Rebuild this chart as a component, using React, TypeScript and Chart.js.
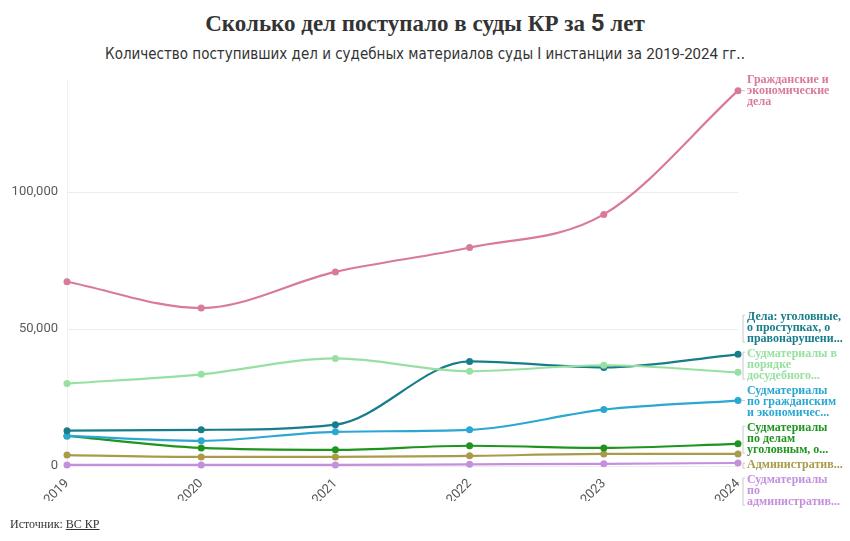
import React, { useEffect, useRef } from 'react';
import { Chart, registerables } from 'chart.js';

Chart.register(...registerables);

// ---- data ----
const years = ['2019', '2020', '2021', '2022', '2023', '2024'];
const civilCases = [67300, 57700, 70900, 79800, 91900, 137100];
const criminalCases = [12900, 13200, 15100, 38200, 36000, 40800];
const pretrialMaterials = [30100, 33500, 39300, 34600, 36800, 34200];
const civilMaterials = [11000, 9200, 12500, 13200, 20600, 23900];
const criminalMaterials = [11000, 6600, 5900, 7400, 6600, 8100];
const adminCases = [4000, 3300, 3300, 3700, 4400, 4400];
const adminMaterials = [400, 400, 400, 600, 800, 1100];
const yTickValues = [0, 50000, 100000];

const seriesNames = [
  'Гражданские и экономические дела',
  'Судматериалы в порядке досудебного производства',
  'Дела: уголовные, о проступках, о правонарушениях',
  'Судматериалы по гражданским и экономическим делам',
  'Судматериалы по делам уголовным, о проступках',
  'Административные дела',
  'Судматериалы по административным делам',
];
const seriesLabelLines = [
  ['Гражданские и', 'экономические', 'дела'],
  ['Судматериалы в', 'порядке', 'досудебного...'],
  ['Дела: уголовные,', 'о проступках, о', 'правонарушени...'],
  ['Судматериалы', 'по гражданским', 'и экономичес...'],
  ['Судматериалы', 'по делам', 'уголовным, о...'],
  ['Административ...'],
  ['Судматериалы', 'по', 'административ...'],
];
const seriesValues = [
  civilCases,
  pretrialMaterials,
  criminalCases,
  civilMaterials,
  criminalMaterials,
  adminCases,
  adminMaterials,
];
const seriesColors = ['#d9799b', '#98e0a1', '#187d8b', '#2aa7d3', '#1f951f', '#a99b4a', '#c490de'];

const LABEL_FONT = 'bold 12px "Liberation Serif", "DejaVu Serif", serif';
const LINE_H = 11;
const GAP = 4;

const endLabels = {
  id: 'endLabels',
  afterDatasetsDraw(chart: any) {
    const ctx = chart.ctx;
    const items: any[] = [];
    chart.data.datasets.forEach((ds: any, i: number) => {
      const meta = chart.getDatasetMeta(i);
      const pt = meta.data[meta.data.length - 1];
      if (!pt) return;
      const lines = seriesLabelLines[i];
      items.push({ i, x: pt.x, target: pt.y, h: lines.length * LINE_H, lines, color: ds.borderColor });
    });
    items.sort((a, b) => a.target - b.target);
    // cluster relaxation preserving mean position
    let clusters: any[] = [];
    const place = (c: any) => {
      let off = 0;
      let sum = 0;
      c.items.forEach((m: any) => {
        sum += m.target - (off + m.h / 2);
        off += m.h + GAP;
      });
      c.top = sum / c.items.length;
      c.height = off - GAP;
    };
    for (const it of items) {
      clusters.push({ items: [it], top: 0, height: 0 });
      place(clusters[clusters.length - 1]);
      while (clusters.length > 1) {
        const a = clusters[clusters.length - 2];
        const b = clusters[clusters.length - 1];
        if (a.top + a.height + GAP > b.top) {
          const merged = { items: a.items.concat(b.items), top: 0, height: 0 };
          place(merged);
          clusters.splice(clusters.length - 2, 2, merged);
        } else break;
      }
    }
    ctx.save();
    ctx.font = LABEL_FONT;
    ctx.textBaseline = 'middle';
    ctx.textAlign = 'left';
    clusters.forEach((c) => {
      let y = c.top;
      c.items.forEach((m: any) => {
        const lx = m.x + 9;
        const top = y;
        const bottom = y + m.h;
        const center = (top + bottom) / 2;
        ctx.strokeStyle = '#c8c8c8';
        ctx.lineWidth = 1;
        ctx.beginPath();
        if (Math.abs(center - m.target) < 3) {
          ctx.moveTo(m.x + 4, m.target);
          ctx.lineTo(lx - 2, m.target);
        } else {
          const bx = lx - 4;
          ctx.moveTo(bx + 2, top + 4);
          ctx.lineTo(bx, top + 4);
          ctx.lineTo(bx, bottom - 2);
          ctx.lineTo(bx + 2, bottom - 2);
        }
        ctx.stroke();
        ctx.fillStyle = m.color;
        m.lines.forEach((ln: string, k: number) => {
          ctx.fillText(ln, lx, top + LINE_H * k + LINE_H / 2 + 0.5);
        });
        y = bottom + GAP;
      });
    });
    ctx.restore();
  },
};

export default function App() {
  const ref = useRef<HTMLCanvasElement | null>(null);
  useEffect(() => {
    if (!ref.current) return;
    const chart = new Chart(ref.current, {
      type: 'line',
      data: {
        labels: years,
        datasets: seriesValues.map((vals, i) => ({
          label: seriesNames[i],
          data: vals,
          borderColor: seriesColors[i],
          backgroundColor: seriesColors[i],
          pointBackgroundColor: seriesColors[i],
          pointBorderWidth: 0,
          pointRadius: 3.5,
          borderWidth: 2.2,
          cubicInterpolationMode: 'monotone' as const,
          fill: false,
          clip: false as any,
        })),
      },
      options: {
        animation: false,
        responsive: false,
        devicePixelRatio: 1,
        layout: { padding: { left: 0, right: 112, top: 80, bottom: 40 } },
        plugins: {
          legend: { display: false },
          tooltip: { enabled: false },
          title: { display: false },
        },
        scales: {
          x: {
            offset: false,
            grid: { display: false },
            border: { display: false },
            ticks: {
              minRotation: 45,
              maxRotation: 45,
              padding: 2,
              color: '#555',
              font: { family: 'Roboto, "DejaVu Sans", sans-serif', size: 13 },
            },
            afterFit: (s: any) => {
              s.height = 35;
            },
          },
          y: {
            min: 0,
            max: 141000,
            afterBuildTicks: (s: any) => {
              s.ticks = yTickValues.map((v) => ({ value: v }));
            },
            grid: { color: '#ececec', lineWidth: 1, drawTicks: false },
            border: { display: true, color: '#f0f0f0' },
            ticks: {
              padding: 9,
              color: '#5a5a5a',
              font: { family: 'Roboto, "DejaVu Sans", sans-serif', size: 13 },
              callback: (v: any) => Number(v).toLocaleString('en-US'),
            },
            afterFit: (s: any) => {
              s.width = 67;
            },
          },
        },
      },
      plugins: [endLabels],
    });
    return () => chart.destroy();
  }, []);

  return (
    <div style={{ position: 'fixed', left: 0, top: 0, width: 850, height: 541, background: '#fff' }}>
      <div
        style={{
          position: 'absolute',
          top: 8,
          left: 0,
          width: 850,
          textAlign: 'center',
          fontFamily: '"Liberation Serif", "DejaVu Serif", serif',
          fontWeight: 'bold',
          fontSize: 23,
          color: '#333',
          lineHeight: '30px',
        }}
      >
        Сколько дел поступало в суды КР за <span style={{ fontFamily: 'Roboto, sans-serif', fontSize: 24 }}>5</span> лет
      </div>
      <div
        style={{
          position: 'absolute',
          top: 43,
          left: 0,
          width: 850,
          textAlign: 'center',
          fontFamily: '"Liberation Sans Narrow", "DejaVu Sans Condensed", "Roboto Condensed", sans-serif',
          fontSize: 15,
          color: '#333',
          lineHeight: '22px',
        }}
      >
        Количество поступивших дел и судебных материалов суды I инстанции за{' '}
        <span style={{ fontFamily: 'Roboto, sans-serif' }}>2019-2024</span> гг..
      </div>
      <canvas ref={ref} width={850} height={541} style={{ position: 'absolute', left: 0, top: 0 }} />
      <div
        style={{
          position: 'absolute',
          top: 516,
          left: 10,
          fontFamily: '"Liberation Serif", "DejaVu Serif", serif',
          fontSize: 12,
          color: '#333',
          lineHeight: '16px',
        }}
      >
        Источник: <span style={{ textDecoration: 'underline' }}>ВС КР</span>
      </div>
    </div>
  );
}
